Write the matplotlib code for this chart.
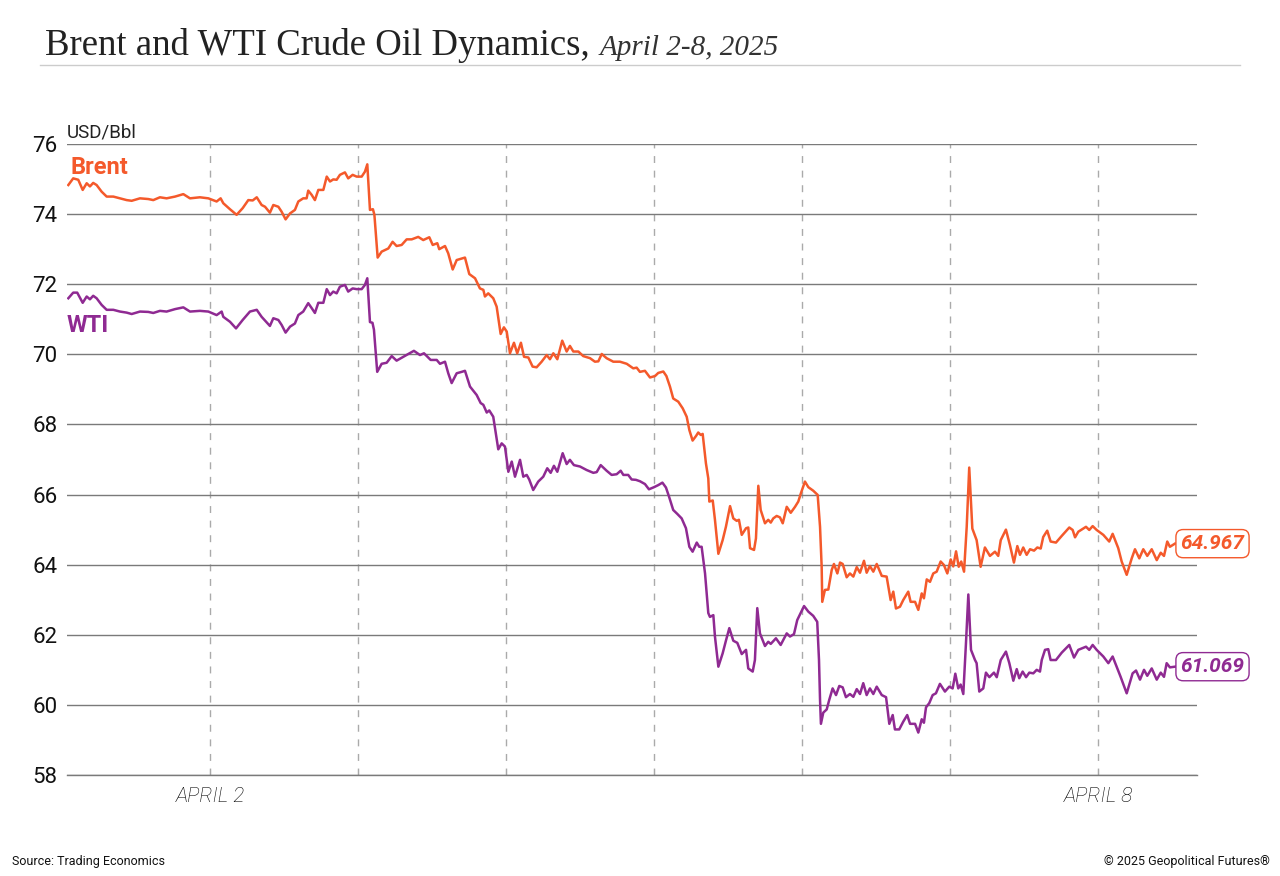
import matplotlib
matplotlib.use("Agg")
import matplotlib.pyplot as plt
from matplotlib.lines import Line2D

# --- data (time in days: 2.0 = April 2, 8.0 = April 8) ---
brent_t = [1.043, 1.076, 1.110, 1.140, 1.167, 1.189, 1.211, 1.234, 1.268, 1.302,
           1.347, 1.392, 1.437, 1.471, 1.527, 1.583, 1.617, 1.662, 1.707, 1.764,
           1.820, 1.865, 1.932, 1.989, 2.045, 2.072, 2.090, 2.135, 2.180, 2.221,
           2.259, 2.289, 2.316, 2.349, 2.372, 2.405, 2.428, 2.462, 2.484, 2.511,
           2.541, 2.574, 2.597, 2.630, 2.653, 2.664, 2.687, 2.709, 2.732, 2.766,
           2.789, 2.811, 2.833, 2.856, 2.878, 2.912, 2.934, 2.964, 2.991, 3.025,
           3.047, 3.063, 3.081, 3.101, 3.111, 3.133, 3.160, 3.205, 3.234, 3.261,
           3.295, 3.329, 3.363, 3.407, 3.441, 3.482, 3.505, 3.536, 3.549, 3.588,
           3.610, 3.640, 3.667, 3.723, 3.752, 3.791, 3.824, 3.847, 3.858, 3.880,
           3.914, 3.937, 3.964, 3.986, 4.005, 4.027, 4.054, 4.076, 4.101, 4.122,
           4.151, 4.180, 4.207, 4.241, 4.275, 4.297, 4.320, 4.347, 4.380, 4.410,
           4.432, 4.455, 4.489, 4.522, 4.568, 4.601, 4.624, 4.647, 4.680, 4.725,
           4.770, 4.816, 4.860, 4.883, 4.905, 4.939, 4.973, 5.007, 5.029, 5.063,
           5.084, 5.108, 5.130, 5.164, 5.194, 5.221, 5.239, 5.261, 5.284, 5.299,
           5.316, 5.329, 5.351, 5.367, 5.374, 5.397, 5.412, 5.435, 5.464, 5.486,
           5.514, 5.536, 5.559, 5.574, 5.593, 5.622, 5.637, 5.649, 5.676, 5.689,
           5.705, 5.721, 5.750, 5.772, 5.789, 5.806, 5.829, 5.851, 5.870, 5.897,
           5.924, 5.953, 5.975, 5.993, 6.020, 6.043, 6.076, 6.106, 6.122, 6.133,
           6.137, 6.155, 6.178, 6.201, 6.216, 6.239, 6.257, 6.275, 6.302, 6.324,
           6.347, 6.370, 6.392, 6.419, 6.437, 6.459, 6.482, 6.505, 6.539, 6.572,
           6.599, 6.617, 6.635, 6.662, 6.684, 6.718, 6.734, 6.764, 6.786, 6.809,
           6.824, 6.843, 6.865, 6.887, 6.910, 6.937, 6.959, 6.982, 7.005, 7.022,
           7.041, 7.059, 7.076, 7.095, 7.113, 7.130, 7.151, 7.180, 7.207, 7.236,
           7.270, 7.304, 7.326, 7.343, 7.378, 7.405, 7.432, 7.455, 7.473, 7.495,
           7.518, 7.541, 7.568, 7.590, 7.613, 7.630, 7.657, 7.680, 7.716, 7.755,
           7.806, 7.829, 7.845, 7.867, 7.919, 7.941, 7.964, 7.991, 8.036, 8.076,
           8.099, 8.137, 8.160, 8.194, 8.228, 8.250, 8.279, 8.306, 8.333, 8.363,
           8.397, 8.424, 8.446, 8.468, 8.486, 8.520]
brent = [74.83, 75.02, 74.98, 74.69, 74.88, 74.79, 74.89, 74.83, 74.64, 74.50,
         74.50, 74.45, 74.40, 74.38, 74.45, 74.43, 74.40, 74.48, 74.45, 74.50,
         74.57, 74.45, 74.48, 74.45, 74.36, 74.45, 74.31, 74.14, 73.98, 74.17,
         74.40, 74.39, 74.48, 74.26, 74.21, 74.04, 74.26, 74.21, 74.07, 73.85,
         74.02, 74.12, 74.36, 74.45, 74.45, 74.67, 74.55, 74.40, 74.69, 74.69,
         75.07, 74.93, 74.99, 74.98, 75.12, 75.19, 75.02, 75.12, 75.07, 75.07,
         75.21, 75.42, 74.12, 74.14, 73.98, 72.76, 72.93, 73.02, 73.21, 73.09,
         73.12, 73.28, 73.28, 73.35, 73.26, 73.34, 73.12, 73.17, 73.00, 73.09,
         72.88, 72.42, 72.69, 72.76, 72.29, 72.17, 71.88, 71.84, 71.65, 71.74,
         71.60, 71.36, 70.58, 70.77, 70.65, 70.03, 70.33, 70.03, 70.33, 69.93,
         69.91, 69.65, 69.63, 69.79, 69.98, 69.86, 70.03, 69.86, 70.39, 70.08,
         70.24, 70.08, 70.08, 69.95, 69.89, 69.79, 69.80, 70.01, 69.89, 69.79,
         69.79, 69.73, 69.60, 69.62, 69.50, 69.53, 69.34, 69.38, 69.47, 69.51,
         69.38, 69.08, 68.74, 68.65, 68.46, 68.22, 67.84, 67.54, 67.67, 67.77,
         67.70, 67.73, 66.89, 66.46, 65.80, 65.83, 65.28, 64.31, 64.70, 65.08,
         65.67, 65.32, 65.25, 65.28, 64.85, 65.04, 65.06, 64.47, 64.42, 64.75,
         66.25, 65.56, 65.18, 65.28, 65.20, 65.32, 65.39, 65.35, 65.18, 65.65,
         65.48, 65.65, 65.80, 66.04, 66.37, 66.21, 66.11, 65.99, 65.08, 63.94,
         62.94, 63.28, 63.29, 63.85, 64.02, 63.75, 64.06, 64.02, 63.64, 63.75,
         63.66, 63.93, 63.77, 64.11, 63.77, 63.96, 63.80, 64.02, 63.68, 63.66,
         62.99, 63.23, 62.75, 62.80, 62.99, 63.23, 62.94, 62.94, 62.71, 63.18,
         63.04, 63.58, 63.51, 63.75, 63.80, 64.09, 63.99, 63.75, 64.15, 63.95,
         64.38, 63.94, 64.09, 63.80, 65.08, 66.77, 65.03, 64.70, 63.94, 64.49,
         64.25, 64.37, 64.25, 64.70, 65.00, 64.56, 64.06, 64.53, 64.28, 64.49,
         64.28, 64.44, 64.40, 64.49, 64.46, 64.79, 64.97, 64.66, 64.63, 64.82,
         65.06, 64.99, 64.78, 64.94, 65.08, 64.99, 65.10, 64.99, 64.85, 64.66,
         64.88, 64.47, 64.09, 63.71, 64.18, 64.44, 64.18, 64.44, 64.25, 64.44,
         64.13, 64.34, 64.25, 64.66, 64.51, 64.60]

wti_t = [1.043, 1.076, 1.103, 1.140, 1.167, 1.189, 1.211, 1.234, 1.268, 1.302,
         1.347, 1.392, 1.437, 1.471, 1.527, 1.583, 1.617, 1.662, 1.707, 1.764,
         1.820, 1.865, 1.932, 1.989, 2.045, 2.079, 2.090, 2.135, 2.176, 2.221,
         2.270, 2.316, 2.349, 2.405, 2.428, 2.462, 2.484, 2.511, 2.541, 2.574,
         2.597, 2.630, 2.664, 2.687, 2.709, 2.732, 2.766, 2.789, 2.811, 2.833,
         2.856, 2.878, 2.912, 2.934, 2.964, 2.991, 3.025, 3.047, 3.063, 3.081,
         3.098, 3.108, 3.130, 3.160, 3.194, 3.228, 3.261, 3.306, 3.340, 3.378,
         3.419, 3.446, 3.475, 3.491, 3.532, 3.554, 3.588, 3.610, 3.633, 3.667,
         3.701, 3.723, 3.757, 3.802, 3.829, 3.847, 3.870, 3.887, 3.914, 3.948,
         3.971, 3.993, 4.016, 4.039, 4.061, 4.095, 4.117, 4.140, 4.157, 4.184,
         4.218, 4.252, 4.279, 4.302, 4.324, 4.347, 4.383, 4.410, 4.432, 4.459,
         4.500, 4.545, 4.590, 4.613, 4.640, 4.680, 4.714, 4.748, 4.775, 4.793,
         4.826, 4.849, 4.878, 4.905, 4.939, 4.966, 5.000, 5.029, 5.057, 5.081,
         5.101, 5.130, 5.157, 5.187, 5.216, 5.239, 5.261, 5.289, 5.306, 5.322,
         5.345, 5.367, 5.378, 5.401, 5.412, 5.435, 5.464, 5.486, 5.509, 5.536,
         5.563, 5.593, 5.622, 5.637, 5.667, 5.682, 5.698, 5.716, 5.750, 5.772,
         5.789, 5.824, 5.856, 5.897, 5.919, 5.946, 5.968, 6.014, 6.043, 6.076,
         6.103, 6.115, 6.122, 6.128, 6.144, 6.167, 6.184, 6.207, 6.230, 6.252,
         6.275, 6.297, 6.324, 6.347, 6.370, 6.392, 6.414, 6.437, 6.459, 6.482,
         6.505, 6.539, 6.568, 6.590, 6.613, 6.628, 6.657, 6.684, 6.711, 6.730,
         6.764, 6.786, 6.809, 6.824, 6.838, 6.860, 6.883, 6.905, 6.932, 6.966,
         6.995, 7.018, 7.036, 7.056, 7.072, 7.090, 7.108, 7.124, 7.142, 7.169,
         7.180, 7.198, 7.225, 7.243, 7.266, 7.297, 7.316, 7.343, 7.378, 7.401,
         7.428, 7.451, 7.468, 7.491, 7.514, 7.536, 7.563, 7.586, 7.608, 7.620,
         7.642, 7.664, 7.680, 7.716, 7.755, 7.806, 7.838, 7.867, 7.919, 7.941,
         7.964, 7.991, 8.036, 8.070, 8.099, 8.126, 8.153, 8.194, 8.234, 8.257,
         8.284, 8.311, 8.333, 8.363, 8.397, 8.424, 8.446, 8.464, 8.486, 8.520]
wti = [71.60, 71.76, 71.76, 71.47, 71.65, 71.57, 71.67, 71.60, 71.41, 71.27,
       71.27, 71.22, 71.19, 71.15, 71.22, 71.21, 71.18, 71.24, 71.22, 71.29,
       71.34, 71.22, 71.24, 71.22, 71.12, 71.22, 71.07, 70.93, 70.74, 70.98,
       71.22, 71.27, 71.07, 70.81, 71.03, 70.98, 70.84, 70.62, 70.79, 70.88,
       71.12, 71.22, 71.46, 71.32, 71.18, 71.47, 71.47, 71.86, 71.69, 71.79,
       71.74, 71.93, 71.98, 71.79, 71.88, 71.86, 71.86, 71.98, 72.17, 70.92,
       70.90, 70.70, 69.50, 69.73, 69.76, 69.95, 69.82, 69.93, 70.01, 70.10,
       69.98, 70.03, 69.91, 69.84, 69.84, 69.73, 69.79, 69.46, 69.18, 69.46,
       69.50, 69.53, 69.08, 68.84, 68.61, 68.56, 68.34, 68.40, 68.22, 67.29,
       67.46, 67.37, 66.65, 66.94, 66.51, 66.99, 66.51, 66.56, 66.43, 66.13,
       66.37, 66.51, 66.75, 66.62, 66.82, 66.65, 67.18, 66.87, 66.99, 66.84,
       66.80, 66.70, 66.62, 66.64, 66.84, 66.68, 66.56, 66.58, 66.68, 66.56,
       66.56, 66.43, 66.42, 66.38, 66.30, 66.15, 66.21, 66.27, 66.34, 66.20,
       65.95, 65.56, 65.45, 65.32, 65.04, 64.51, 64.37, 64.63, 64.51, 64.51,
       63.75, 62.62, 62.51, 62.56, 61.95, 61.09, 61.47, 61.83, 62.19, 61.83,
       61.77, 61.45, 61.57, 61.04, 60.95, 61.28, 62.76, 62.04, 61.68, 61.80,
       61.74, 61.90, 61.71, 62.04, 61.95, 62.02, 62.42, 62.82, 62.66, 62.54,
       62.37, 61.28, 60.14, 59.46, 59.78, 59.87, 60.14, 60.47, 60.28, 60.54,
       60.50, 60.22, 60.31, 60.23, 60.45, 60.31, 60.62, 60.28, 60.47, 60.31,
       60.52, 60.28, 60.22, 59.46, 59.71, 59.30, 59.30, 59.52, 59.71, 59.46,
       59.46, 59.21, 59.59, 59.49, 59.93, 60.05, 60.28, 60.33, 60.60, 60.38,
       60.52, 60.47, 60.89, 60.47, 60.58, 60.31, 61.76, 63.15, 61.57, 61.28,
       61.19, 60.38, 60.47, 60.92, 60.79, 60.92, 60.79, 61.28, 61.52, 61.19,
       60.69, 61.02, 60.76, 60.95, 60.79, 60.92, 60.90, 61.00, 60.95, 61.28,
       61.57, 61.59, 61.28, 61.28, 61.49, 61.71, 61.35, 61.57, 61.66, 61.57,
       61.71, 61.57, 61.38, 61.19, 61.38, 61.09, 60.80, 60.33, 60.90, 60.98,
       60.72, 61.00, 60.83, 61.04, 60.72, 60.92, 60.80, 61.19, 61.07, 61.09]

brent_last_label = "64.967"
wti_last_label = "61.069"

day_ticks = [2, 3, 4, 5, 6, 7, 8]
day_labels = ["APRIL 2", "", "", "", "", "", "APRIL 8"]
y_ticks = [58, 60, 62, 64, 66, 68, 70, 72, 74, 76]

BRENT_COLOR = "#f4592b"
WTI_COLOR = "#8f2a92"
SANS = ["Roboto", "DejaVu Sans"]
SERIF = ["Liberation Serif", "DejaVu Serif"]

fig = plt.figure(figsize=(12.8, 8.76), dpi=100)
ax = fig.add_axes([67 / 1280, 1 - 775 / 876, 1130 / 1280, 631 / 876])

ax.plot(brent_t, brent, color=BRENT_COLOR, lw=1.8, zorder=3)
ax.plot(wti_t, wti, color=WTI_COLOR, lw=1.8, zorder=3)

ax.set_xlim(1.034, 8.669)
ax.set_ylim(58, 76)
ax.set_yticks(y_ticks)
ax.set_xticks(day_ticks)
ax.set_xticklabels(day_labels)

ax.grid(axis="y", color="#7a7a7a", lw=1.0, zorder=1)
ax.grid(axis="x", color="#aaaaaa", lw=1.0, ls=(0, (5, 5.5)), zorder=1)
for name, s in ax.spines.items():
    s.set_visible(name == "bottom")
ax.spines["bottom"].set_color("#7a7a7a")
ax.spines["bottom"].set_linewidth(1.0)

ax.tick_params(axis="y", length=0, pad=7, labelsize=16, labelcolor="#111111")
ax.tick_params(axis="x", direction="in", length=4, color="#aaaaaa", pad=9,
               labelsize=15, labelcolor="#000000")
for lab in ax.get_yticklabels():
    lab.set_fontfamily(SANS)
for lab in ax.get_xticklabels():
    lab.set_fontfamily(SANS)
    lab.set_fontstyle("italic")
    lab.set_fontweight("light")

ax.text(0.0, 1.004, "USD/Bbl", transform=ax.transAxes, ha="left", va="bottom",
        fontsize=13.5, family=SANS, fontweight="normal", color="#222222")
ax.text(0.003, 0.9635, "Brent", transform=ax.transAxes, ha="left", va="center",
        fontsize=17, family=SANS, fontweight="bold", color=BRENT_COLOR)
ax.text(0.0, 0.712, "WTI", transform=ax.transAxes, ha="left", va="center",
        fontsize=17, family=SANS, fontweight="bold", color=WTI_COLOR)

# end-of-line value tags
for t, v, lab, col in [(brent_t[-1], brent[-1], brent_last_label, BRENT_COLOR),
                       (wti_t[-1], wti[-1], wti_last_label, WTI_COLOR)]:
    ax.annotate(lab, xy=(t, v), xytext=(4, 0), textcoords="offset points",
                ha="left", va="center", fontsize=15, family=SANS,
                fontweight="bold", fontstyle="italic", color=col,
                bbox=dict(boxstyle="round,pad=0.22,rounding_size=0.35",
                          fc="white", ec=col, lw=1.0),
                annotation_clip=False, zorder=5)

# title
title_y = 1 - 55 / 876
t1 = fig.text(45 / 1280, title_y, "Brent and WTI Crude Oil Dynamics,", ha="left",
              va="baseline", fontsize=26.5, family=SERIF, color="#222222")
renderer = fig.canvas.get_renderer()
bb = t1.get_window_extent(renderer=renderer)
fig.text(bb.x1 / 1280 + 10 / 1280, title_y, "April 2-8, 2025", ha="left", va="baseline",
         fontsize=21, family=SERIF, fontstyle="italic", color="#333333")
fig.add_artist(Line2D([40 / 1280, 1240 / 1280], [1 - 65 / 876, 1 - 65 / 876],
                      color="#cccccc", lw=1.0))

fig.text(12 / 1280, 1 - 861 / 876, "Source: Trading Economics", ha="left", va="center",
         fontsize=9, family=SANS, color="#111111")
fig.text(1270 / 1280, 1 - 861 / 876, "\u00a9 2025 Geopolitical Futures\u00ae", ha="right",
         va="center", fontsize=9, family=SANS, color="#111111")

fig.savefig("out.png", dpi=100)
